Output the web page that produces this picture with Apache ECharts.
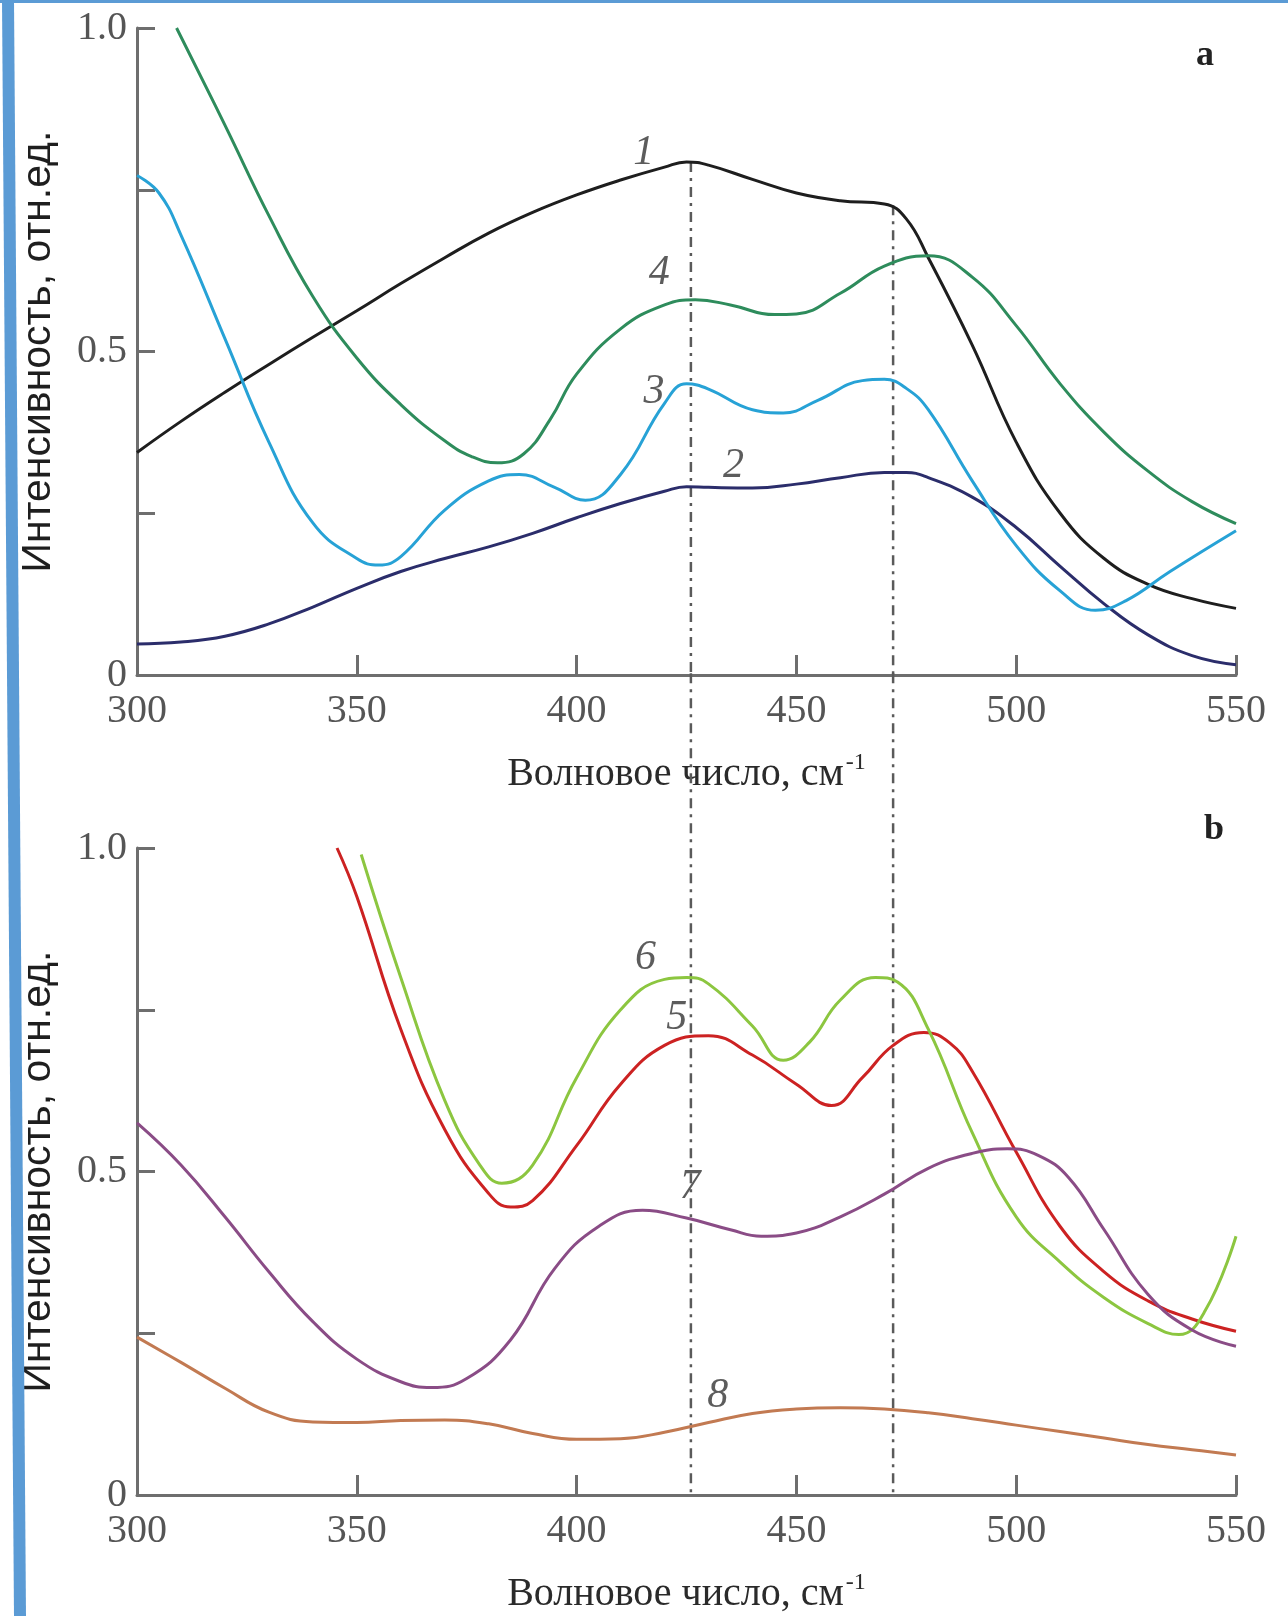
<!DOCTYPE html>
<html><head><meta charset="utf-8">
<script src="https://cdn.jsdelivr.net/npm/echarts@6/dist/echarts.min.js"></script>
<style>html,body{margin:0;padding:0;background:#fff}#c{width:1288px;height:1616px}</style>
</head><body><div id="c"></div>
<script>
// ---- data (wavenumber, cm^-1 / relative intensity) ----
const xTicks = [300, 350, 400, 450, 500, 550];
const refLines = [426, 472];          // dash-dot marker positions
const refLineTops = [0.793, 0.726];   // where they start on curve 1

// panel a
const c1x = [300,310,320,330,340,350,360,370,380,390,400,410,420,425,430,440,450,460,470,475,480,490,500,510,520,530,540,550];
const c1y = [0.344,0.392,0.437,0.48,0.522,0.563,0.605,0.645,0.683,0.715,0.742,0.765,0.785,0.793,0.788,0.766,0.745,0.733,0.728,0.705,0.645,0.51,0.36,0.25,0.18,0.14,0.118,0.103];
const c2x = [300,310,320,330,340,350,360,370,380,390,400,410,420,425,430,440,450,460,470,475,480,490,500,510,520,530,540,550];
const c2y = [0.048,0.051,0.06,0.079,0.105,0.134,0.16,0.18,0.198,0.219,0.243,0.265,0.284,0.291,0.29,0.289,0.295,0.305,0.313,0.313,0.305,0.275,0.228,0.168,0.11,0.062,0.03,0.016];
const c3x = [300,305,310,320,330,340,350,355,360,370,380,387,395,402,410,420,425,430,440,447,455,465,470,475,480,490,500,510,518,525,535,550];
const c3y = [0.772,0.745,0.68,0.52,0.36,0.235,0.18,0.17,0.183,0.255,0.3,0.31,0.29,0.27,0.31,0.42,0.45,0.442,0.41,0.405,0.425,0.455,0.457,0.443,0.41,0.3,0.2,0.13,0.1,0.115,0.16,0.223];
const c4x = [309,320,330,340,350,360,370,376,382,388,394,400,410,420,427,435,445,450,460,470,480,490,500,510,520,530,540,550];
const c4y = [1.0,0.85,0.71,0.585,0.49,0.418,0.362,0.338,0.328,0.342,0.395,0.465,0.535,0.572,0.58,0.572,0.557,0.558,0.59,0.632,0.648,0.615,0.54,0.45,0.375,0.315,0.268,0.234];

// panel b
const c5x = [345.5,350,360,370,380,385,390,400,410,420,430,440,450,458,465,472,479,485,490,500,510,520,530,540,550];
const c5y = [1.0,0.925,0.72,0.565,0.466,0.445,0.455,0.54,0.635,0.695,0.71,0.68,0.635,0.602,0.645,0.695,0.715,0.698,0.655,0.53,0.415,0.345,0.3,0.272,0.253];
const c6x = [351,360,370,378,383,390,400,410,420,425,430,440,447,453,460,468,473,480,490,500,510,520,530,537,543,550];
const c6y = [0.99,0.8,0.61,0.51,0.482,0.51,0.645,0.75,0.797,0.8,0.79,0.725,0.672,0.7,0.765,0.8,0.793,0.72,0.56,0.43,0.36,0.305,0.265,0.248,0.285,0.4];
const c7x = [300,310,320,330,340,350,360,367,375,385,395,405,415,425,435,442,450,460,470,480,490,498,505,512,520,530,540,550];
const c7y = [0.575,0.51,0.43,0.345,0.268,0.21,0.175,0.166,0.18,0.24,0.35,0.415,0.44,0.428,0.41,0.4,0.405,0.43,0.465,0.505,0.528,0.535,0.525,0.49,0.41,0.31,0.255,0.23];
const c8x = [300,310,320,330,340,350,360,370,380,390,400,410,420,430,440,450,460,470,480,490,500,510,520,530,540,550];
const c8y = [0.244,0.205,0.165,0.128,0.113,0.112,0.115,0.116,0.11,0.095,0.086,0.087,0.097,0.112,0.126,0.133,0.135,0.133,0.127,0.118,0.108,0.098,0.088,0.078,0.07,0.062];

const labelsA = [['1',415.3,0.807],['4',418.8,0.621],['3',417.6,0.438],['2',435.7,0.323]];
const labelsB = [['6',415.7,0.83],['5',422.8,0.737],['7',425.8,0.476],['8',432.1,0.153]];

// ---- build ----
const zip = (xs, ys) => xs.map((x, i) => [x, ys[i]]);
const serif = "'Liberation Serif', 'Times New Roman', serif";
const sans = "'Liberation Sans', Arial, sans-serif";
const axisColor = '#6e6e6e';

function xAxisFor(gi) {
  return {
    gridIndex: gi, type: 'value', min: 300, max: 550, interval: 50,
    axisLine: { show: true, onZero: false, lineStyle: { color: axisColor, width: 3 } },
    axisTick: { show: true, inside: true, length: 20, lineStyle: { color: axisColor, width: 3 } },
    axisLabel: { color: '#555', fontFamily: serif, fontSize: 40, margin: 16 },
    splitLine: { show: false },
    name: '{a|Волновое число, см}{s|-1}',
    nameLocation: 'middle', nameGap: 76,
    nameTextStyle: { rich: {
      a: { fontFamily: serif, fontSize: 40, color: '#2a2a2a' },
      s: { fontFamily: serif, fontSize: 24, color: '#2a2a2a', verticalAlign: 'top', padding: [0,0,22,2] }
    } }
  };
}
function yAxisFor(gi) {
  return {
    gridIndex: gi, type: 'value', min: 0, max: 1, interval: 0.25,
    axisLine: { show: true, lineStyle: { color: axisColor, width: 3 } },
    axisTick: { show: true, inside: true, length: 18, lineStyle: { color: axisColor, width: 3 } },
    axisLabel: { color: '#555', fontFamily: serif, fontSize: 40, margin: 10,
      formatter: v => (v === 0 ? '0' : v === 0.5 ? '0.5' : v === 1 ? '1.0' : '') },
    splitLine: { show: false },
    name: 'Интенсивность, отн.ед.', nameLocation: 'middle', nameGap: 78, nameRotate: 90,
    nameTextStyle: { fontFamily: sans, fontSize: 41, color: '#1e1e1e' }
  };
}
function curve(gi, xs, ys, color) {
  return { type: 'line', xAxisIndex: gi, yAxisIndex: gi, data: zip(xs, ys), smooth: 0.45,
    symbol: 'none', lineStyle: { color, width: 3 }, z: 3, silent: true };
}
function labelSeries(gi, arr) {
  return { type: 'scatter', xAxisIndex: gi, yAxisIndex: gi, symbolSize: 0, silent: true, z: 5,
    data: arr.map(a => ({ name: a[0], value: [a[1], a[2]] })),
    label: { show: true, position: 'inside', formatter: p => p.name, fontFamily: serif,
      fontStyle: 'italic', fontSize: 42, color: '#333' } };
}
const dash = { color: '#5a5a5a', width: 2.5, type: [10, 6, 3, 6] };
const series = [
  curve(0, c1x, c1y, '#1e1e1e'),
  curve(0, c2x, c2y, '#2b2d6b'),
  curve(0, c3x, c3y, '#27a2d6'),
  curve(0, c4x, c4y, '#2e8c5c'),
  curve(1, c5x, c5y, '#cc2222'),
  curve(1, c6x, c6y, '#8cc640'),
  curve(1, c7x, c7y, '#8a4c86'),
  curve(1, c8x, c8y, '#c27a52'),
  labelSeries(0, labelsA), labelSeries(1, labelsB)
];
refLines.forEach((x, i) => {
  series.push({ type: 'line', xAxisIndex: 0, yAxisIndex: 0, symbol: 'none', silent: true, clip: false,
    data: [[x, refLineTops[i]], [x, 0]], lineStyle: dash, z: 2 });
  series.push({ type: 'line', xAxisIndex: 1, yAxisIndex: 1, symbol: 'none', silent: true, clip: false,
    data: [[x, 1.27], [x, 0]], lineStyle: dash, z: 2 });
});

const chart = echarts.init(document.getElementById('c'), null, { renderer: 'canvas' });
chart.setOption({
  backgroundColor: '#ffffff',
  animation: false,
  textStyle: { fontFamily: serif },
  grid: [
    { left: 137, right: 52, top: 28, height: 647 },
    { left: 137, right: 52, top: 848, height: 647 }
  ],
  xAxis: [xAxisFor(0), xAxisFor(1)],
  yAxis: [yAxisFor(0), yAxisFor(1)],
  series,
  graphic: [
    { type: 'rect', shape: { x: 0, y: 0, width: 1288, height: 3 }, style: { fill: '#5b9bd5' }, z: 10 },
    { type: 'polygon', shape: { points: [[2,0],[14,0],[26,1616],[14,1616]] }, style: { fill: '#5b9bd5' }, z: 10 },
    { type: 'text', left: 1196, top: 38, style: { text: 'a', fontFamily: serif, fontWeight: 'bold', fontSize: 36, fill: '#222' } },
    { type: 'text', left: 1204, top: 812, style: { text: 'b', fontFamily: serif, fontWeight: 'bold', fontSize: 36, fill: '#222' } }
  ]
});
</script></body></html>
